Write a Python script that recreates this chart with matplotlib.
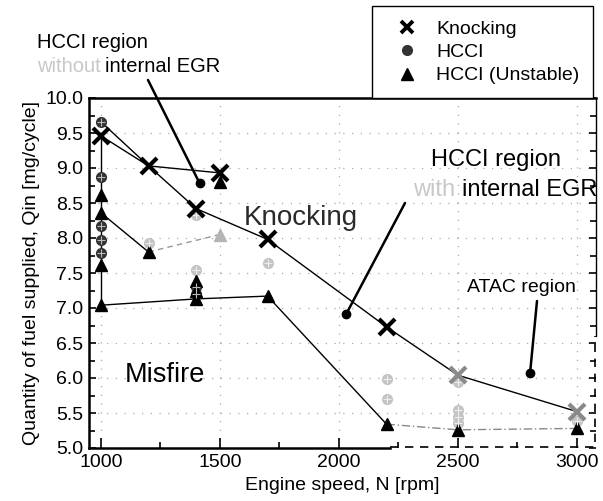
import matplotlib
matplotlib.use("Agg")
import matplotlib.pyplot as plt
from matplotlib.lines import Line2D
from matplotlib.ticker import MultipleLocator

plt.rcParams['font.family'] = ['Liberation Sans', 'DejaVu Sans']

# Knocking limit points (x markers)
knock_rpm = [1000, 1200, 1400, 1500, 1700, 2200, 2500, 3000]
knock_q = [9.46, 9.03, 8.42, 8.93, 7.98, 6.73, 6.04, 5.52]
knock_gray = [False, False, False, False, False, False, True, True]

# Stable HCCI points (circles)
hcci_rpm = [1000, 1000, 1000, 1000, 1000, 1400, 1400]
hcci_q = [9.66, 8.87, 8.17, 7.97, 7.78, 7.30, 7.20]
# faded HCCI points
hcci_faint_rpm = [1200, 1400, 1400, 1700, 2200, 2200, 2500, 2500, 2500, 2500, 3000]
hcci_faint_q = [7.93, 8.33, 7.54, 7.64, 5.98, 5.70, 5.95, 5.54, 5.45, 5.36, 5.38]

# Unstable HCCI points (triangles)
unst_rpm = [1000, 1000, 1000, 1000, 1200, 1400, 1400, 1400, 1500, 1700, 2200, 2500, 3000]
unst_q = [8.61, 8.36, 7.61, 7.04, 7.80, 7.38, 7.25, 7.13, 8.80, 7.17, 5.34, 5.26, 5.28]
unst_faint_rpm = [1500]
unst_faint_q = [8.05]

# Region boundaries
upper_rpm = [1000, 1200, 1500]
upper_q = [9.66, 9.03, 8.93]
knock_line_rpm = [1000, 1200, 1400, 1700, 2200, 2500, 3000]
knock_line_q = [9.46, 9.03, 8.42, 7.98, 6.73, 6.04, 5.52]
lower_rpm = [1000, 1200]
lower_q = [8.36, 7.80]
lower_faint_rpm = [1200, 1500]
lower_faint_q = [7.80, 8.05]
misfire_rpm = [1000, 1400, 1700, 2200]
misfire_q = [7.04, 7.13, 7.17, 5.34]
misfire_faint_rpm = [2200, 2500, 3000]
misfire_faint_q = [5.34, 5.26, 5.28]
left_edge_rpm = [1000, 1000]
left_edge_q = [9.46, 7.04]

fig = plt.figure(figsize=(6.03, 5.01), dpi=100)
ax = fig.add_axes([89 / 603, 1 - 448 / 501, 507 / 603, 350 / 501])

ax.set_xlim(950, 3080)
ax.set_ylim(5.0, 10.0)

# faint dotted grid
ax.grid(True, color='#aaaaaa', linestyle=(0, (1, 6)), linewidth=0.9)

# boundary lines
ax.plot(upper_rpm, upper_q, color='black', lw=1.0, zorder=2)
ax.plot(knock_line_rpm, knock_line_q, color='black', lw=1.0, zorder=2)
ax.plot(lower_rpm, lower_q, color='black', lw=1.0, zorder=2)
ax.plot(lower_faint_rpm, lower_faint_q, color='#999999', lw=1.0, ls=(0, (4, 3)), zorder=2)
ax.plot(misfire_rpm, misfire_q, color='black', lw=1.0, zorder=2)
ax.plot(misfire_faint_rpm, misfire_faint_q, color='#888888', lw=1.0, ls=(0, (6, 2, 1, 2)), zorder=2)
ax.plot(left_edge_rpm, left_edge_q, color='black', lw=1.0, zorder=2)

# markers
def hcci_marker(x, y, face, cross):
    ax.plot(x, y, 'o', ms=7, mfc=face, mec=face, ls='none', zorder=3)
    ax.plot(x, y, '+', ms=6, mew=0.8, color=cross, ls='none', zorder=4)

hcci_marker(hcci_rpm, hcci_q, '#333333', '#bbbbbb')
hcci_marker(hcci_faint_rpm, hcci_faint_q, '#c4c4c4', '#eeeeee')

ax.plot(unst_rpm, unst_q, '^', ms=9, color='black', ls='none', zorder=3)
ax.plot(unst_faint_rpm, unst_faint_q, '^', ms=8, color='#b5b5b5', ls='none', zorder=3)

for x, y, g in zip(knock_rpm, knock_q, knock_gray):
    ax.plot(x, y, 'x', ms=11, mew=3.0, color='#8a8a8a' if g else 'black', zorder=5)

# axes styling
ax.xaxis.set_major_locator(MultipleLocator(500))
ax.xaxis.set_minor_locator(MultipleLocator(250))
ax.yaxis.set_major_locator(MultipleLocator(0.5))
ax.yaxis.set_minor_locator(MultipleLocator(0.25))
ax.yaxis.set_major_formatter(matplotlib.ticker.FormatStrFormatter('%.1f'))
ax.tick_params(which='both', direction='in', right=True, labelsize=14, width=1.2)
ax.tick_params(which='major', length=7, pad=4)
ax.tick_params(which='minor', length=4)
ax.tick_params(axis='y', which='major', length=5)
ax.tick_params(axis='y', which='minor', length=4)

for side in ['left', 'top']:
    ax.spines[side].set_linewidth(1.8)
ax.spines['bottom'].set_linewidth(1.8)
ax.spines['right'].set_linewidth(1.0)
ax.spines['bottom'].set_bounds(950, 2215)
ax.spines['right'].set_bounds(6.6, 10.0)

# ATAC region border along the bottom right corner
ax.plot([2215, 3075, 3075], [5.02, 5.02, 6.6], color='black', lw=1.2,
        ls=(0, (5, 4)), clip_on=False, zorder=2)

ax.set_xlabel('Engine speed, N [rpm]', fontsize=14, labelpad=5)
ax.set_ylabel('Quantity of fuel supplied, Qin [mg/cycle]', fontsize=14, labelpad=4)

# region labels
ax.text(1600, 8.29, 'Knocking', fontsize=20, color='#2a2a2a', va='center', ha='left')
ax.text(1100, 6.04, 'Misfire', fontsize=19.5, va='center', ha='left')
ax.text(2387, 9.11, 'HCCI region', fontsize=17, va='center', ha='left')
ax.text(3084, 8.69, 'internal EGR', fontsize=17, va='center', ha='right')
ax.text(2488, 8.69, 'with', fontsize=17, color='#c8c8c8', va='center', ha='right')
ax.text(2540, 7.29, 'ATAC region', fontsize=14, va='center', ha='left')

fig.text(37 / 603, 1 - 43 / 501, 'HCCI region', fontsize=14.5, va='center', ha='left')
fig.text(37 / 603, 1 - 67 / 501, 'without', fontsize=14.5, color='#c8c8c8', va='center', ha='left')
fig.text(105 / 603, 1 - 67 / 501, 'internal EGR', fontsize=14.5, va='center', ha='left')

# callout lines with dot ends
callouts = [
    ((1415, 8.78), (148, 501 - 80)),
    ((2030, 6.91), (405, 501 - 203)),
    ((2803, 6.07), (537, 501 - 301)),
]
for (px, py), start in callouts:
    ax.annotate('', xy=(px, py), xytext=start, textcoords='figure pixels',
                arrowprops=dict(arrowstyle='-', lw=1.8, color='black',
                                shrinkA=0, shrinkB=0), annotation_clip=False)
    ax.plot(px, py, 'o', ms=6, color='black', zorder=6)

handles = [
    Line2D([], [], marker='x', ms=9, mew=2.8, color='black', ls='none'),
    Line2D([], [], marker='o', ms=7, color='#333333', ls='none'),
    Line2D([], [], marker='^', ms=9, color='black', ls='none'),
]
leg = ax.legend(handles, ['Knocking', 'HCCI', 'HCCI (Unstable)'],
                loc='lower right', bbox_to_anchor=(0.994, 1.0), fontsize=14,
                frameon=True, fancybox=False, framealpha=1, edgecolor='black',
                borderpad=0.7, labelspacing=0.3, handlelength=2.2,
                handletextpad=0.4, borderaxespad=0)
leg.get_frame().set_linewidth(1.0)

fig.savefig('out.png', dpi=100)
